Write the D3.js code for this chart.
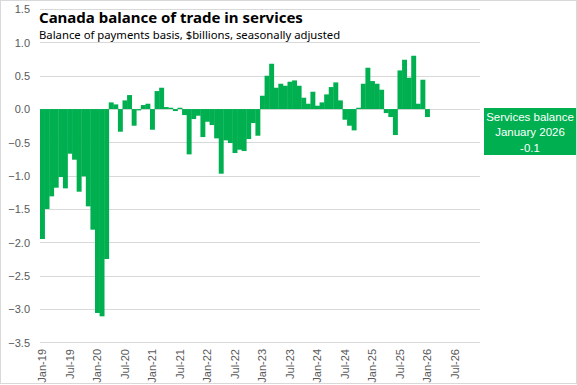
<!DOCTYPE html>
<html>
<head>
<meta charset="utf-8">
<script src="https://cdn.jsdelivr.net/npm/d3@7"></script>
<style>
  html, body { margin: 0; padding: 0; background: #fff; }
  svg { display: block; }
</style>
</head>
<body>
<svg id="chart" width="577" height="385"></svg>
<script>
// ---- Data ----
const title = "Canada balance of trade in services";
const subtitle = "Balance of payments basis, $billions, seasonally adjusted";
const startMonth = "2019-01";
const axisMonths = 96; // Jan-19 .. Dec-26 on the axis
const values = [
  -1.95, -1.50, -1.31, -1.18, -1.02, -1.19, -0.67, -0.76, -1.24, -1.01, -1.46, -1.81,
  -3.06, -3.11, -2.25, 0.10, 0.07, -0.34, 0.13, 0.21, -0.25, -0.02, 0.06, 0.08,
  -0.31, 0.27, 0.32, 0.03, 0.02, -0.03, 0.02, -0.09, -0.68, -0.15, -0.10, -0.42,
  -0.19, -0.24, -0.44, -0.97, -0.47, -0.51, -0.66, -0.61, -0.63, -0.45, -0.21, -0.40,
  0.20, 0.50, 0.68, 0.32, 0.38, 0.35, 0.41, 0.43, 0.35, 0.17, 0.08, 0.26,
  0.05, 0.10, 0.22, 0.33, 0.40, 0.13, -0.16, -0.25, -0.32, 0.02, 0.38, 0.62,
  0.42, 0.38, 0.29, -0.06, -0.12, -0.39, 0.58, 0.74, 0.47, 0.80, 0.08, 0.44,
  -0.12
];
const yTicks = [1.5, 1.0, 0.5, 0.0, -0.5, -1.0, -1.5, -2.0, -2.5, -3.0, -3.5];
const xTickLabels = ["Jan-19","Jul-19","Jan-20","Jul-20","Jan-21","Jul-21","Jan-22","Jul-22",
                     "Jan-23","Jul-23","Jan-24","Jul-24","Jan-25","Jul-25","Jan-26","Jul-26"];
const annotationLines = ["Services balance", "January 2026", "-0.1"];

// ---- Setup ----
const fmtLabel = d3.timeFormat("%b-%y");
const parse = d3.timeParse("%Y-%m");
const start = parse(startMonth);
const monthKeys = d3.range(axisMonths).map(i => fmtLabel(d3.timeMonth.offset(start, i)));
const data = values.map((v, i) => ({ key: monthKeys[i], value: v }));

const svg = d3.select("#chart");
const green = "#00B050";
const grid = "#d9d9d9";
const textCol = "#595959";

svg.append("rect")
  .attr("x", 0.5).attr("y", 0.5).attr("width", 576).attr("height", 383)
  .attr("fill", "#fff").attr("stroke", grid);

const x = d3.scaleBand().domain(monthKeys).range([40, 480]).padding(0);
const y = d3.scaleLinear().domain([-3.5, 1.5]).range([342.3, 9.1]);

// gridlines
svg.append("g").selectAll("line").data(yTicks).join("line")
  .attr("x1", 40).attr("x2", 480)
  .attr("y1", d => Math.round(y(d)) + 0.5).attr("y2", d => Math.round(y(d)) + 0.5)
  .attr("stroke", grid).attr("stroke-width", 1);

// y axis labels
const yAxis = d3.axisLeft(y).tickValues(yTicks).tickFormat(d3.format(".1f")).tickSize(0).tickPadding(0);
const gy = svg.append("g").attr("transform", "translate(30,0)").call(yAxis);
gy.select(".domain").remove();
gy.selectAll("text")
  .attr("fill", textCol).style("font-family", "'Liberation Sans', Arial, sans-serif")
  .style("font-size", "11px").attr("dy", "0.35em");

// bars
svg.append("g").selectAll("rect").data(data).join("rect")
  .attr("x", d => x(d.key))
  .attr("width", x.bandwidth() + 0.35)
  .attr("y", d => y(Math.max(0, d.value)))
  .attr("height", d => Math.abs(y(d.value) - y(0)))
  .attr("fill", green);

// x axis labels
const xAxis = d3.axisBottom(x).tickValues(xTickLabels).tickSize(0).tickPadding(0);
const gx = svg.append("g").attr("transform", "translate(0,349)").call(xAxis);
gx.select(".domain").remove();
gx.selectAll("text")
  .attr("fill", textCol).style("font-family", "'Liberation Sans', Arial, sans-serif")
  .style("font-size", "11px")
  .attr("text-anchor", "end")
  .attr("transform", "rotate(-90)")
  .attr("x", 0).attr("y", 0).attr("dy", "0.35em");

// title
svg.append("text").attr("x", 39).attr("y", 22.5)
  .style("font-family", "'Noto Sans', 'Open Sans', sans-serif")
  .style("font-weight", "bold").style("font-size", "15px").attr("fill", "#000")
  .text(title);
svg.append("text").attr("x", 39).attr("y", 38.5)
  .style("font-family", "'Noto Sans', 'Open Sans', sans-serif")
  .style("font-size", "11.3px").attr("fill", "#000")
  .text(subtitle);

// annotation box
const box = svg.append("g");
box.append("rect").attr("x", 484).attr("y", 108).attr("width", 92).attr("height", 47).attr("fill", green);
box.selectAll("text").data(annotationLines).join("text")
  .attr("x", 530).attr("y", (d, i) => 121 + i * 15.3)
  .attr("text-anchor", "middle").attr("fill", "#fff")
  .style("font-family", "'Liberation Sans', Arial, sans-serif").style("font-size", "11.5px")
  .text(d => d);
</script>
</body>
</html>
